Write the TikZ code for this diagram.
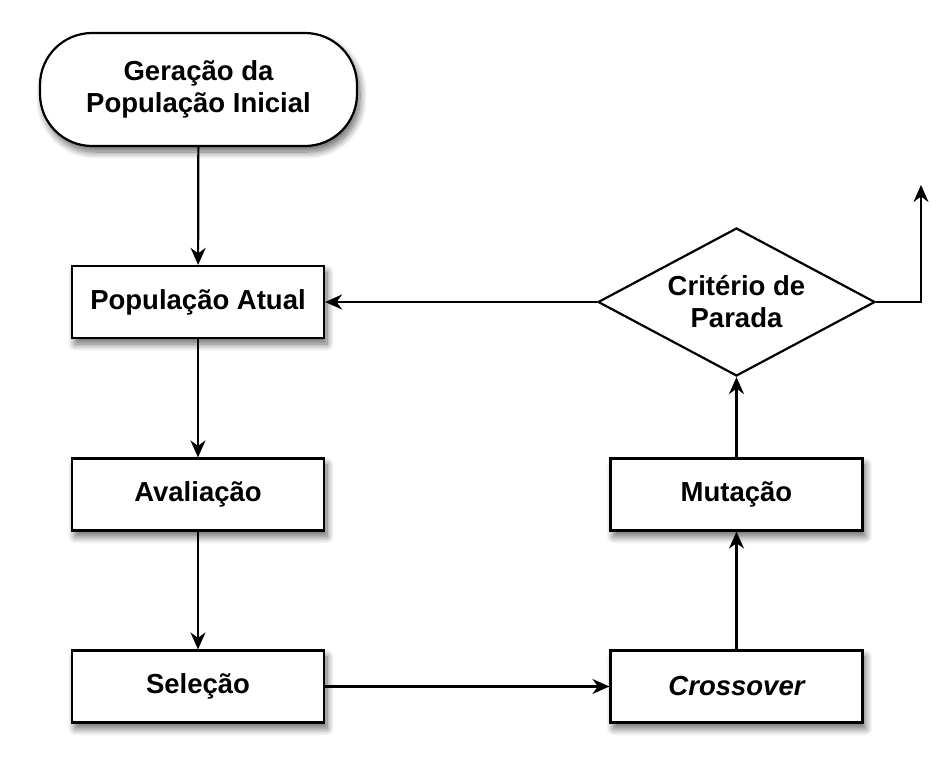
\documentclass[tikz,border=0pt]{standalone}
\usepackage{fontspec}
\setmainfont{Liberation Sans}
\usetikzlibrary{arrows.meta,shapes.geometric,shadows.blur}
\begin{document}
\begin{tikzpicture}[x=1pt,y=1pt,
  every node/.style={font=\bfseries\fontsize{27.5}{32}\selectfont, align=center, inner sep=0pt},
  shad/.style={blur shadow={shadow xshift=3pt, shadow yshift=-6pt, shadow blur radius=7pt, shadow blur steps=12, shadow opacity=60}},
  procbox/.style={draw=black, line width=2.2pt, fill=white, minimum width=252pt, minimum height=72pt, shad},
  termbox/.style={draw=black, line width=2.2pt, fill=white, rounded corners=52pt, minimum width=317pt, minimum height=113pt, shad},
  decbox/.style={draw=black, line width=2.2pt, fill=white, diamond, minimum width=277pt, minimum height=148pt, aspect=1.87},
  conn/.style={line width=2.2pt, -{Stealth[length=17pt,width=15pt,inset=5.5pt]}}
]
\useasboundingbox (0,0) rectangle (952,-770);
\node[termbox] (ini) at (198.5,-89.5) {Geração da\\População Inicial};
\node[procbox] (atual) at (198,-302) {População Atual};
\node[procbox] (aval) at (198,-494.5) {Avaliação};
\node[procbox] (sel) at (198,-686.5) {Seleção};
\node[procbox] (cross) at (736.5,-686.5) {\itshape Crossover};
\node[procbox] (mut) at (736.5,-494.5) {Mutação};
\node[decbox] (crit) at (736.5,-302) {};
\node at (736.5,-302) {Critério de\\Parada};
\coordinate (exit) at (921,-185);
\draw[conn] (ini) -- (atual);
\draw[conn] (atual) -- (aval);
\draw[conn] (aval) -- (sel);
\draw[conn] (sel) -- (cross);
\draw[conn] (cross) -- (mut);
\draw[conn] (mut) -- (crit);
\draw[conn] (crit.west) -- (atual.east);
\draw[conn] (crit.east) -| (exit);
\end{tikzpicture}
\end{document}
